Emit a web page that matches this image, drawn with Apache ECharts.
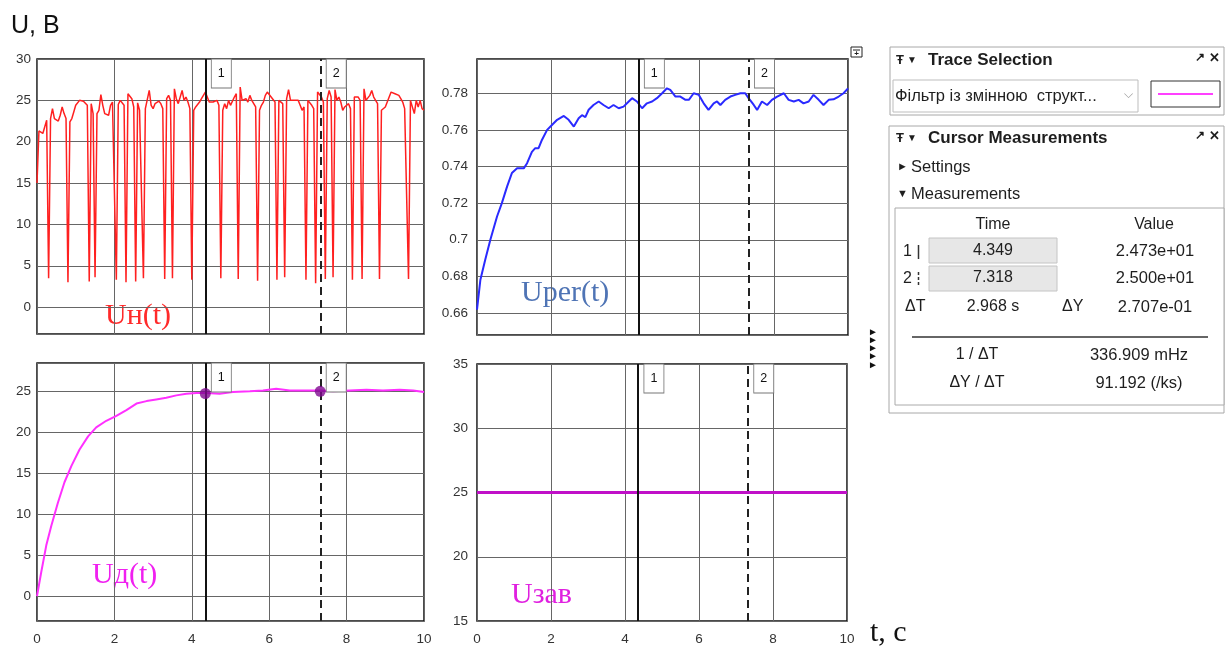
<!DOCTYPE html>
<html>
<head>
<meta charset="utf-8">
<script src="https://cdn.jsdelivr.net/npm/echarts@6/dist/echarts.min.js"></script>
<style>
html, body { margin: 0; padding: 0; background: #fff; }
#chart { width: 1227px; height: 646px; }
</style>
</head>
<body>
<div id="chart"></div>
<script>
// Uн(t): load voltage, sampled every 0.05 s from 0 to 10 s
const uhStep = 0.05;
const uhV = [
  15.0, 21.3, 21.5, 21.0, 20.8, 22.6, 3.5, 22.8, 24.0, 22.8,
  22.6, 22.5, 23.2, 24.2, 23.4, 22.8, 3.0, 22.4, 22.8, 23.6,
  24.4, 24.3, 25.0, 24.8, 24.9, 25.0, 24.4, 3.1, 24.6, 23.4,
  3.6, 23.4, 23.8, 25.7, 24.4, 23.4, 23.6, 23.2, 24.4, 24.8,
  24.6, 3.3, 24.5, 25.0, 24.8, 24.4, 3.0, 25.8, 25.6, 25.2,
  24.2, 3.1, 24.7, 23.8, 23.6, 3.5, 24.0, 24.2, 26.2, 24.4,
  24.0, 24.6, 24.4, 24.9, 24.6, 24.0, 3.4, 25.2, 25.6, 25.0,
  3.5, 26.4, 25.2, 24.6, 24.5, 26.2, 25.0, 25.4, 24.8, 24.0,
  3.3, 23.8, 24.2, 24.0, 24.8, 25.2, 25.6, 26.0, 25.4, 24.8,
  25.0, 24.8, 24.6, 25.0, 24.4, 3.5, 23.8, 24.6, 24.0, 25.0,
  24.4, 24.2, 25.4, 25.8, 3.4, 26.6, 25.0, 24.8, 25.2, 24.8,
  25.6, 25.0, 24.6, 24.2, 3.2, 23.8, 24.4, 24.8, 25.6, 26.0,
  26.2, 25.4, 25.4, 24.8, 3.3, 25.0, 25.2, 24.6, 3.6, 25.2,
  26.3, 25.0, 24.8, 25.0, 24.8, 25.0, 24.4, 23.8, 24.2, 3.3,
  25.0, 24.8, 24.4, 24.0, 2.9, 26.0, 25.8, 25.4, 24.8, 3.4,
  25.2, 26.2, 25.4, 3.6, 26.3, 25.0, 25.4, 24.8, 23.8, 24.2,
  24.0, 24.6, 24.0, 3.3, 25.4, 25.6, 25.4, 25.0, 3.4, 26.4,
  25.0, 25.2, 25.6, 26.2, 25.4, 25.0, 24.6, 3.4, 23.8, 24.0,
  24.2, 24.8, 25.4, 26.0, 26.2, 25.8, 26.0, 25.6, 25.2, 24.8,
  24.0, 23.8, 3.4, 25.0, 25.2, 23.4, 25.0, 24.2, 25.0, 24.0,
  23.8
];

// Uper(t): regulator output
const uperT = [0, 0.09, 0.22, 0.36, 0.54, 0.67, 0.81, 0.94, 1.08, 1.26,
  1.35, 1.48, 1.57, 1.66, 1.75, 1.89, 2.02, 2.16, 2.34, 2.47,
  2.61, 2.74, 2.83, 2.92, 3.01, 3.14, 3.28, 3.41, 3.55, 3.68,
  3.82, 3.95, 4.09, 4.18, 4.31, 4.45, 4.58, 4.72, 4.85, 4.99,
  5.12, 5.21, 5.35, 5.48, 5.62, 5.71, 5.84, 5.98, 6.11, 6.24,
  6.38, 6.47, 6.56, 6.69, 6.83, 6.96, 7.10, 7.23, 7.32, 7.46,
  7.55, 7.68, 7.82, 7.95, 8.09, 8.27, 8.40, 8.54, 8.67, 8.80,
  8.94, 9.07, 9.21, 9.34, 9.48, 9.61, 9.75, 9.88, 10];
const uperV = [0.6618, 0.678, 0.689, 0.700, 0.7127, 0.720, 0.729, 0.7364, 0.739, 0.739,
  0.7418, 0.748, 0.750, 0.750, 0.7545, 0.760, 0.7627, 0.7655, 0.7676, 0.7655,
  0.7618, 0.7664, 0.768, 0.767, 0.771, 0.7736, 0.7755, 0.7736, 0.7718, 0.7736,
  0.7718, 0.7727, 0.7755, 0.7773, 0.7755, 0.7718, 0.7745, 0.7755, 0.7773, 0.780,
  0.7827, 0.7818, 0.7782, 0.7782, 0.7764, 0.7764, 0.780, 0.7791, 0.7745, 0.7709,
  0.7745, 0.7755, 0.7736, 0.7764, 0.7782, 0.7791, 0.780, 0.780, 0.7773, 0.7736,
  0.7709, 0.7755, 0.7736, 0.7764, 0.7782, 0.780, 0.7764, 0.7755, 0.7764, 0.7745,
  0.7755, 0.7791, 0.7764, 0.7736, 0.7764, 0.7767, 0.7782, 0.780, 0.7827];

// Uд(t): filtered voltage
const udT = [0, 0.11, 0.24, 0.37, 0.54, 0.71, 0.89, 1.10, 1.32, 1.53,
  1.79, 2.05, 2.31, 2.57, 2.83, 3.08, 3.34, 3.60, 3.86, 4.12,
  4.38, 4.72, 5.06, 5.50, 5.84, 6.18, 6.53, 6.87, 7.30, 7.65,
  8.08, 8.51, 8.94, 9.37, 9.72, 10];
const udV = [0, 2.95, 6.2, 8.6, 11.4, 13.9, 15.9, 17.9, 19.5, 20.6,
  21.4, 22.0, 22.7, 23.5, 23.8, 24.0, 24.2, 24.5, 24.7, 24.8,
  24.8, 24.7, 24.9, 25.0, 25.1, 25.3, 25.1, 25.1, 25.1, 25.0,
  25.1, 25.2, 25.1, 25.2, 25.1, 24.9];

// Uзав: setpoint
const uzavT = [0, 10];
const uzavV = [25, 25];

// cursors
const cursorNames = ['1', '2'];
const cursorT = [4.349, 7.318];
const cursorV = [24.73, 25.00];

// axis ranges [min, max, step] for the four panes
const yRangeUh = [-3.25, 30, 5];
const yRangeUper = [0.648, 0.7987, 0.02];
const yRangeUd = [-3.03, 28.45, 5];
const yRangeUzav = [15, 35, 5];
const xRange = [0, 10, 2];

// measurement panel text
const measRows = [['1', '4.349', '2.473e+01'], ['2', '7.318', '2.500e+01']];
const measDelta = ['2.968 s', '2.707e-01'];
const measDerived = [['1 / ΔT', '336.909 mHz'], ['ΔY / ΔT', '91.192 (/ks)']];

const SANS = '"Liberation Sans", Arial, sans-serif';
const SERIF = '"Liberation Serif", "Times New Roman", serif';

const grids = [
  { left: 37, top: 59, width: 387, height: 275 },
  { left: 477, top: 59, width: 371, height: 276 },
  { left: 37, top: 363, width: 387, height: 260 },
  { left: 477, top: 364, width: 370, height: 259 }
].map(g => Object.assign(g, { show: true, borderColor: '#111', borderWidth: 1.5, backgroundColor: '#fff' }));

const gridLine = { show: true, lineStyle: { color: '#666', width: 1 } };

function xAxis(gi, labels) {
  return {
    type: 'value', gridIndex: gi, min: xRange[0], max: xRange[1], interval: xRange[2],
    axisLine: { show: false }, axisTick: { show: false }, splitLine: gridLine,
    axisLabel: { show: labels, margin: 11, fontSize: 13.5, color: '#333', fontFamily: SANS }
  };
}

function yAxis(gi, r, margin, decimals) {
  return {
    type: 'value', gridIndex: gi, min: r[0], max: r[1], minInterval: r[2], maxInterval: r[2],
    axisLine: { show: false }, axisTick: { show: false }, splitLine: gridLine,
    axisLabel: {
      margin: margin, fontSize: 13.5, color: '#333', fontFamily: SANS,
      formatter: v => {
        const k = v / r[2];
        if (Math.abs(k - Math.round(k)) > 1e-6) return '';
        return String(Number(v.toFixed(decimals)));
      }
    }
  };
}

function cursorLines() {
  return {
    symbol: 'none', silent: true, label: { show: false }, animation: false,
    data: [
      { xAxis: cursorT[0], lineStyle: { type: 'solid', color: '#111', width: 2 } },
      { xAxis: cursorT[1], lineStyle: { type: [8, 5], color: '#222', width: 2 } }
    ]
  };
}

function cursorTags(yTop) {
  return {
    symbol: 'rect', symbolSize: [20, 29], symbolOffset: [16, 14.5], silent: true, animation: false,
    itemStyle: { color: '#fff', borderColor: '#777', borderWidth: 1 },
    label: { show: true, position: 'inside', formatter: '{b}', color: '#111', fontSize: 12.5, fontFamily: SANS },
    data: cursorT.map((t, i) => ({ name: cursorNames[i], coord: [t, yTop] }))
  };
}

const series = [
  {
    type: 'line', xAxisIndex: 0, yAxisIndex: 0, showSymbol: false, symbol: 'none',
    data: uhV.map((v, i) => [i * uhStep, v]),
    lineStyle: { color: '#ff2020', width: 1.5 },
    markLine: cursorLines(), markPoint: cursorTags(yRangeUh[1])
  },
  {
    type: 'line', xAxisIndex: 1, yAxisIndex: 1, showSymbol: false, symbol: 'none',
    data: uperT.map((t, i) => [t, uperV[i]]),
    lineStyle: { color: '#2a2aff', width: 2 },
    markLine: cursorLines(), markPoint: cursorTags(yRangeUper[1])
  },
  {
    type: 'line', xAxisIndex: 2, yAxisIndex: 2, showSymbol: false, symbol: 'none',
    data: udT.map((t, i) => [t, udV[i]]),
    lineStyle: { color: '#ff30ff', width: 2 },
    markLine: cursorLines(), markPoint: cursorTags(yRangeUd[1])
  },
  {
    type: 'scatter', xAxisIndex: 2, yAxisIndex: 2, symbolSize: 11, z: 5,
    itemStyle: { color: '#800a90' },
    data: cursorT.map((t, i) => [t, cursorV[i]])
  },
  {
    type: 'line', xAxisIndex: 3, yAxisIndex: 3, showSymbol: false, symbol: 'none',
    data: uzavT.map((t, i) => [t, uzavV[i]]),
    lineStyle: { color: '#c010c8', width: 3 },
    markLine: cursorLines(), markPoint: cursorTags(yRangeUzav[1])
  }
];

// text helpers for the side panel
function txt(x, y, s, opt) {
  return {
    type: 'text', x: x, y: y, silent: true,
    style: Object.assign({ text: s, font: '16px ' + SANS, fill: '#1e1e1e', textAlign: 'left', textVerticalAlign: 'middle' }, opt || {})
  };
}
function box(x, y, w, h, stroke, fill, lw) {
  return { type: 'rect', silent: true, shape: { x: x, y: y, width: w, height: h },
    style: { stroke: stroke, fill: fill || '#fff', lineWidth: lw || 1 } };
}
function seg(x1, y1, x2, y2, stroke, lw, dash) {
  return { type: 'line', silent: true, shape: { x1: x1, y1: y1, x2: x2, y2: y2 },
    style: { stroke: stroke, lineWidth: lw || 1, lineDash: dash || null } };
}

const arrowFont = { font: '10px ' + SANS, fill: '#111', textAlign: 'center' };

const graphics = [
  // axis captions and trace names
  txt(11, 26, 'U, B', { font: '25px ' + SANS, fill: '#111' }),
  txt(870, 633, 't, c', { font: '30px ' + SERIF, fill: '#111' }),
  txt(105, 316, 'Uн(t)', { font: '30px ' + SERIF, fill: '#ff2a2a' }),
  txt(521, 293, 'Uper(t)', { font: '30px ' + SERIF, fill: '#4f74b5' }),
  txt(92, 575, 'Uд(t)', { font: '30px ' + SERIF, fill: '#f020f0' }),
  txt(511, 595, 'Uзав', { font: '30px ' + SERIF, fill: '#e020e0' }),

  // expand icon and collapse arrows
  box(851, 47, 11, 10, '#222', '#fff', 1),
  seg(853, 50, 860, 50, '#222', 1),
  txt(856.5, 53.5, '+', { font: 'bold 8px ' + SANS, fill: '#222', textAlign: 'center' }),
  txt(873, 332, '►', arrowFont),
  txt(873, 340, '►', arrowFont),
  txt(873, 348, '►', arrowFont),
  txt(873, 356, '►', arrowFont),
  txt(873, 365, '►', arrowFont),

  // Trace Selection panel
  box(890, 47, 334, 68, '#a8a8a8'),
  txt(896, 60, 'Ŧ', { font: 'bold 13px ' + SANS }),
  txt(907, 60, '▼', { font: '10px ' + SANS }),
  txt(928, 60, 'Trace Selection', { font: 'bold 17px ' + SANS }),
  txt(1195, 58, '↗', { font: 'bold 12px ' + SANS }),
  txt(1209, 58, '✕', { font: 'bold 13px ' + SANS }),
  box(893, 80, 245, 32, '#bdbdbd'),
  txt(895, 96, 'Фільтр із змінною  структ...', { font: '16.5px ' + SANS }),
  txt(1124, 95, '⌵', { font: '12px ' + SANS, fill: '#9a9a9a' }),
  box(1151, 81, 69, 26, '#333'),
  seg(1158, 94, 1213, 94, '#ff40ff', 2),

  // Cursor Measurements panel
  box(889, 126, 335, 287, '#a8a8a8'),
  txt(896, 138, 'Ŧ', { font: 'bold 13px ' + SANS }),
  txt(907, 138, '▼', { font: '10px ' + SANS }),
  txt(928, 138, 'Cursor Measurements', { font: 'bold 17px ' + SANS }),
  txt(1195, 136, '↗', { font: 'bold 12px ' + SANS }),
  txt(1209, 136, '✕', { font: 'bold 13px ' + SANS }),
  txt(897, 167, '►', { font: '11px ' + SANS }),
  txt(911, 167, 'Settings', { font: '16.5px ' + SANS }),
  txt(897, 194, '▼', { font: '11px ' + SANS }),
  txt(911, 194, 'Measurements', { font: '16.5px ' + SANS }),
  box(895, 208, 329, 197, '#aaaaaa'),
  txt(993, 225, 'Time', { textAlign: 'center' }),
  txt(1154, 225, 'Value', { textAlign: 'center' }),
  txt(903, 252, measRows[0][0]),
  seg(918.5, 245, 918.5, 259, '#333', 1.5),
  box(929, 238, 128, 25, '#c4c4c4', '#e7e7e7'),
  txt(993, 251, measRows[0][1], { textAlign: 'center' }),
  txt(1155, 251, measRows[0][2], { textAlign: 'center', font: '16.5px ' + SANS }),
  txt(903, 279, measRows[1][0]),
  seg(918.5, 272, 918.5, 286, '#333', 1.5, [3, 2]),
  box(929, 266, 128, 25, '#c4c4c4', '#e7e7e7'),
  txt(993, 278, measRows[1][1], { textAlign: 'center' }),
  txt(1155, 278, measRows[1][2], { textAlign: 'center', font: '16.5px ' + SANS }),
  txt(905, 307, 'ΔT'),
  txt(993, 307, measDelta[0], { textAlign: 'center' }),
  txt(1062, 307, 'ΔY'),
  txt(1155, 307, measDelta[1], { textAlign: 'center', font: '16.5px ' + SANS }),
  seg(912, 337, 1208, 337, '#333', 1.5),
  txt(977, 355, measDerived[0][0], { textAlign: 'center' }),
  txt(1139, 355, measDerived[0][1], { textAlign: 'center', font: '16.5px ' + SANS }),
  txt(977, 383, measDerived[1][0], { textAlign: 'center' }),
  txt(1139, 383, measDerived[1][1], { textAlign: 'center', font: '16.5px ' + SANS })
];

const chart = echarts.init(document.getElementById('chart'), null, { renderer: 'canvas' });
chart.setOption({
  animation: false,
  backgroundColor: '#fff',
  grid: grids,
  xAxis: [xAxis(0, false), xAxis(1, false), xAxis(2, true), xAxis(3, true)],
  yAxis: [
    yAxis(0, yRangeUh, 6, 0),
    yAxis(1, yRangeUper, 9, 2),
    yAxis(2, yRangeUd, 6, 0),
    yAxis(3, yRangeUzav, 9, 0)
  ],
  series: series,
  graphic: graphics
});
</script>
</body>
</html>
